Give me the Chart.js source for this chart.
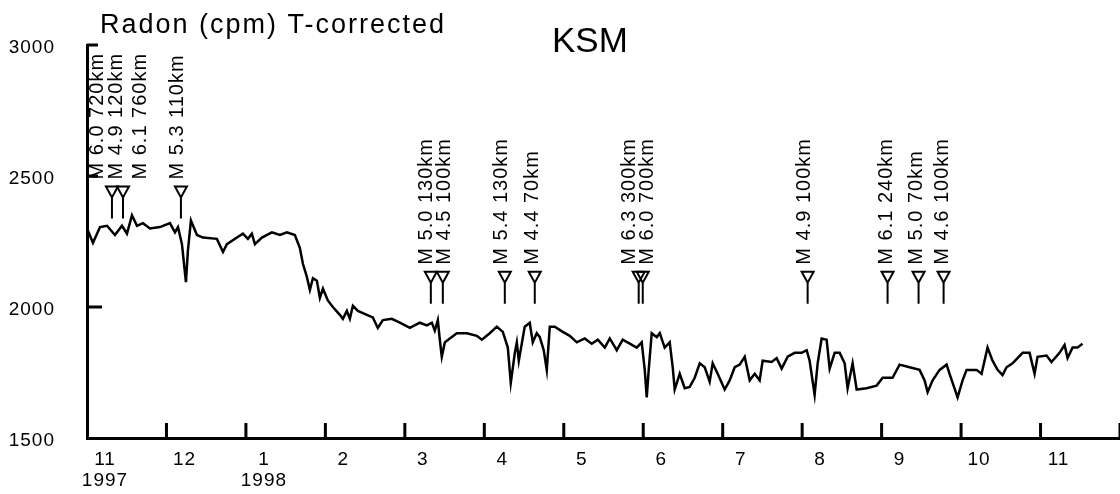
<!DOCTYPE html>
<html>
<head>
<meta charset="utf-8">
<script src="https://cdn.jsdelivr.net/npm/chart.js@4"></script>
<style>
  html, body { margin: 0; padding: 0; background: #fff; }
  canvas { display: block; }
</style>
</head>
<body>
<canvas id="chart" width="1120" height="494"></canvas>
<script>
// x = months since 1 Nov 1997, y = radon count rate (cpm, temperature corrected)
const months = [
  0, 0.075, 0.164, 0.252, 0.352, 0.440, 0.503, 0.566, 0.629, 0.704,
  0.792, 0.918, 1.044, 1.107, 1.145, 1.195, 1.245, 1.270, 1.308, 1.384,
  1.459, 1.635, 1.711, 1.761, 1.887, 1.962, 2.025, 2.075, 2.113, 2.201,
  2.327, 2.428, 2.516, 2.616, 2.679, 2.717, 2.767, 2.805, 2.843, 2.893,
  2.931, 2.969, 3.031, 3.094, 3.182, 3.220, 3.270, 3.308, 3.346, 3.409,
  3.522, 3.597, 3.660, 3.723, 3.836, 3.937, 4.063, 4.189, 4.277, 4.340,
  4.377, 4.415, 4.440, 4.465, 4.503, 4.566, 4.654, 4.780, 4.906, 4.969,
  5.069, 5.157, 5.233, 5.296, 5.333, 5.384, 5.409, 5.434, 5.509, 5.572,
  5.610, 5.660, 5.698, 5.748, 5.786, 5.824, 5.887, 5.987, 6.075, 6.164,
  6.264, 6.352, 6.428, 6.516, 6.579, 6.667, 6.742, 6.830, 6.918, 6.981,
  7.019, 7.044, 7.069, 7.107, 7.170, 7.208, 7.270, 7.333, 7.371, 7.396,
  7.459, 7.522, 7.585, 7.648, 7.711, 7.774, 7.836, 7.874, 7.937, 8.025,
  8.088, 8.151, 8.214, 8.277, 8.340, 8.403, 8.465, 8.503, 8.616, 8.679,
  8.742, 8.818, 8.906, 8.994, 9.057, 9.094, 9.157, 9.195, 9.245, 9.308,
  9.346, 9.409, 9.472, 9.535, 9.572, 9.635, 9.686, 9.811, 9.937, 10.013,
  10.138, 10.226, 10.352, 10.478, 10.541, 10.579, 10.642, 10.730, 10.818, 10.855,
  10.956, 11.019, 11.069, 11.195, 11.258, 11.333, 11.396, 11.459, 11.522, 11.572,
  11.648, 11.774, 11.862, 11.925, 11.962, 12.075, 12.138, 12.239, 12.302, 12.340,
  12.403, 12.465, 12.528
];
const radon = [
  2300, 2245, 2305, 2310, 2275, 2310, 2280, 2350, 2310, 2320,
  2300, 2305, 2320, 2285, 2305, 2240, 2095, 2215, 2330, 2275,
  2265, 2260, 2210, 2240, 2265, 2280, 2260, 2280, 2240, 2265,
  2285, 2275, 2285, 2275, 2225, 2165, 2115, 2065, 2110, 2100,
  2035, 2070, 2025, 2000, 1970, 1955, 1985, 1955, 2005, 1985,
  1970, 1960, 1920, 1950, 1955, 1940, 1920, 1940, 1930, 1940,
  1910, 1950, 1875, 1810, 1865, 1880, 1900, 1900, 1890, 1875,
  1900, 1925, 1905, 1845, 1710, 1825, 1865, 1795, 1925, 1940,
  1865, 1900, 1885, 1835, 1760, 1925, 1925, 1905, 1890, 1865,
  1880, 1860, 1875, 1845, 1880, 1835, 1875, 1860, 1845, 1865,
  1760, 1655, 1760, 1900, 1885, 1900, 1845, 1865, 1770, 1685,
  1745, 1690, 1695, 1730, 1785, 1770, 1715, 1785, 1745, 1685,
  1720, 1770, 1780, 1810, 1720, 1745, 1720, 1795, 1790, 1805,
  1765, 1810, 1825, 1825, 1835, 1795, 1665, 1785, 1880, 1875,
  1765, 1825, 1825, 1785, 1690, 1785, 1685, 1690, 1700, 1730,
  1730, 1780, 1770, 1760, 1720, 1675, 1720, 1760, 1780, 1745,
  1655, 1720, 1760, 1760, 1745, 1845, 1795, 1760, 1740, 1770,
  1785, 1825, 1825, 1745, 1810, 1815, 1790, 1825, 1855, 1805,
  1845, 1845, 1860
];

// month tick labels, one per month boundary (last boundary unlabeled)
const monthLabels = [['11', '1997'], '12', ['1', '1998'], '2', '3', '4', '5', '6', '7', '8', '9', '10', '11', ''];
const radonTicks = [1500, 2000, 2500, 3000];

// earthquakes: marker time, label time, marker level (cpm)
const quakeText = [
  'M 6.0 720km', 'M 4.9 120km', 'M 6.1 760km', 'M 5.3 110km',
  'M 5.0 130km', 'M 4.5 100km', 'M 5.4 130km', 'M 4.4 70km',
  'M 6.3 300km', 'M 6.0 700km', 'M 4.9 100km', 'M 6.1 240km',
  'M 5.0 70km', 'M 4.6 100km'
];
const quakeAt = [0.314, 0.453, null, 1.182, 4.327, 4.478, 5.258, 5.635, 6.943, 6.994, 9.069, 10.075, 10.465, 10.780];
const quakeLabelAt = [0.138, 0.377, 0.667, 1.145, 4.277, 4.503, 5.220, 5.610, 6.830, 7.057, 9.030, 10.063, 10.440, 10.767];
const quakeLevel = [2460, 2460, 2460, 2460, 2135, 2135, 2135, 2135, 2135, 2135, 2135, 2135, 2135, 2135];

const ink = '#000';
const face = '"Liberation Sans", Arial, Helvetica, sans-serif';

const paper = {
    id: 'paper',
    beforeDraw(chart) {
        chart.ctx.letterSpacing = '1px';
    },
    afterDraw(chart) {
        const {ctx, chartArea: area, scales: {x, y}} = chart;
        ctx.save();
        ctx.strokeStyle = ink;
        ctx.fillStyle = ink;

        // inward ticks on both axes
        ctx.lineWidth = 3;
        ctx.beginPath();
        for (let m = 1; m < monthLabels.length; m++) {
            const px = x.getPixelForValue(m);
            ctx.moveTo(px, area.bottom);
            ctx.lineTo(px, area.bottom - 15);
        }
        y.ticks.forEach(t => {
            if (t.value === y.min) return;
            const py = y.getPixelForValue(t.value);
            ctx.moveTo(area.left, py);
            ctx.lineTo(area.left + (t.value === 2000 ? 15 : 11), py);
        });
        ctx.stroke();

        // earthquake markers and labels
        ctx.lineWidth = 2;
        quakeText.forEach((txt, i) => {
            const top = y.getPixelForValue(quakeLevel[i]);
            if (quakeAt[i] !== null) {
                const px = x.getPixelForValue(quakeAt[i]);
                ctx.beginPath();
                ctx.moveTo(px - 6, top);
                ctx.lineTo(px + 6, top);
                ctx.lineTo(px, top + 11);
                ctx.closePath();
                ctx.moveTo(px, top + 11);
                ctx.lineTo(px, top + 32);
                ctx.stroke();
            }
            ctx.save();
            ctx.translate(x.getPixelForValue(quakeLabelAt[i]), top - 7);
            ctx.rotate(-Math.PI / 2);
            ctx.font = '20px ' + face;
            ctx.letterSpacing = '1px';
            ctx.textAlign = 'left';
            ctx.textBaseline = 'middle';
            ctx.fillText(txt, 0, 0);
            ctx.restore();
        });

        // titles
        ctx.textAlign = 'left';
        ctx.textBaseline = 'alphabetic';
        ctx.font = '27px ' + face;
        ctx.letterSpacing = '2px';
        ctx.fillText('Radon (cpm) T-corrected', 100, 33);
        ctx.font = '35px ' + face;
        ctx.letterSpacing = '0px';
        ctx.fillText('KSM', 552, 52);
        ctx.restore();
    }
};

new Chart(document.getElementById('chart'), {
    type: 'line',
    data: {
        datasets: [{
            data: months.map((m, i) => ({x: m, y: radon[i]})),
            borderColor: ink,
            borderWidth: 2.5,
            pointRadius: 0,
            tension: 0,
            fill: false,
        }]
    },
    options: {
        responsive: false,
        animation: false,
        devicePixelRatio: 1,
        layout: {
            padding: {top: 45, right: 0, bottom: 0, left: 0},
        },
        plugins: {
            legend: {display: false},
            title: {display: false},
            tooltip: {enabled: false},
        },
        scales: {
            x: {
                type: 'linear',
                min: 0,
                max: monthLabels.length - 1,
                afterBuildTicks(scale) {
                    scale.ticks = monthLabels.map((_, i) => ({value: i}));
                },
                afterFit(scale) {
                    scale.height = 56;
                    scale.paddingLeft = 0;
                    scale.paddingRight = 0;
                },
                grid: {display: false, drawTicks: false},
                border: {display: true, color: ink, width: 3},
                ticks: {
                    autoSkip: false,
                    maxRotation: 0,
                    padding: 11,
                    labelOffset: 18,
                    color: ink,
                    font: {family: face, size: 19, lineHeight: 1.1},
                    callback: (v) => monthLabels[v],
                },
            },
            y: {
                min: radonTicks[0],
                max: radonTicks[radonTicks.length - 1],
                afterBuildTicks(scale) {
                    scale.ticks = radonTicks.map(v => ({value: v}));
                },
                afterFit(scale) {
                    scale.width = 87;
                    scale.paddingTop = 0;
                    scale.paddingBottom = 0;
                },
                grid: {display: false, drawTicks: false},
                border: {display: true, color: ink, width: 3},
                ticks: {
                    padding: 32,
                    labelOffset: 3,
                    color: ink,
                    font: {family: face, size: 19},
                    callback: (v) => String(v),
                },
            },
        },
    },
    plugins: [paper],
});
</script>
</body>
</html>
